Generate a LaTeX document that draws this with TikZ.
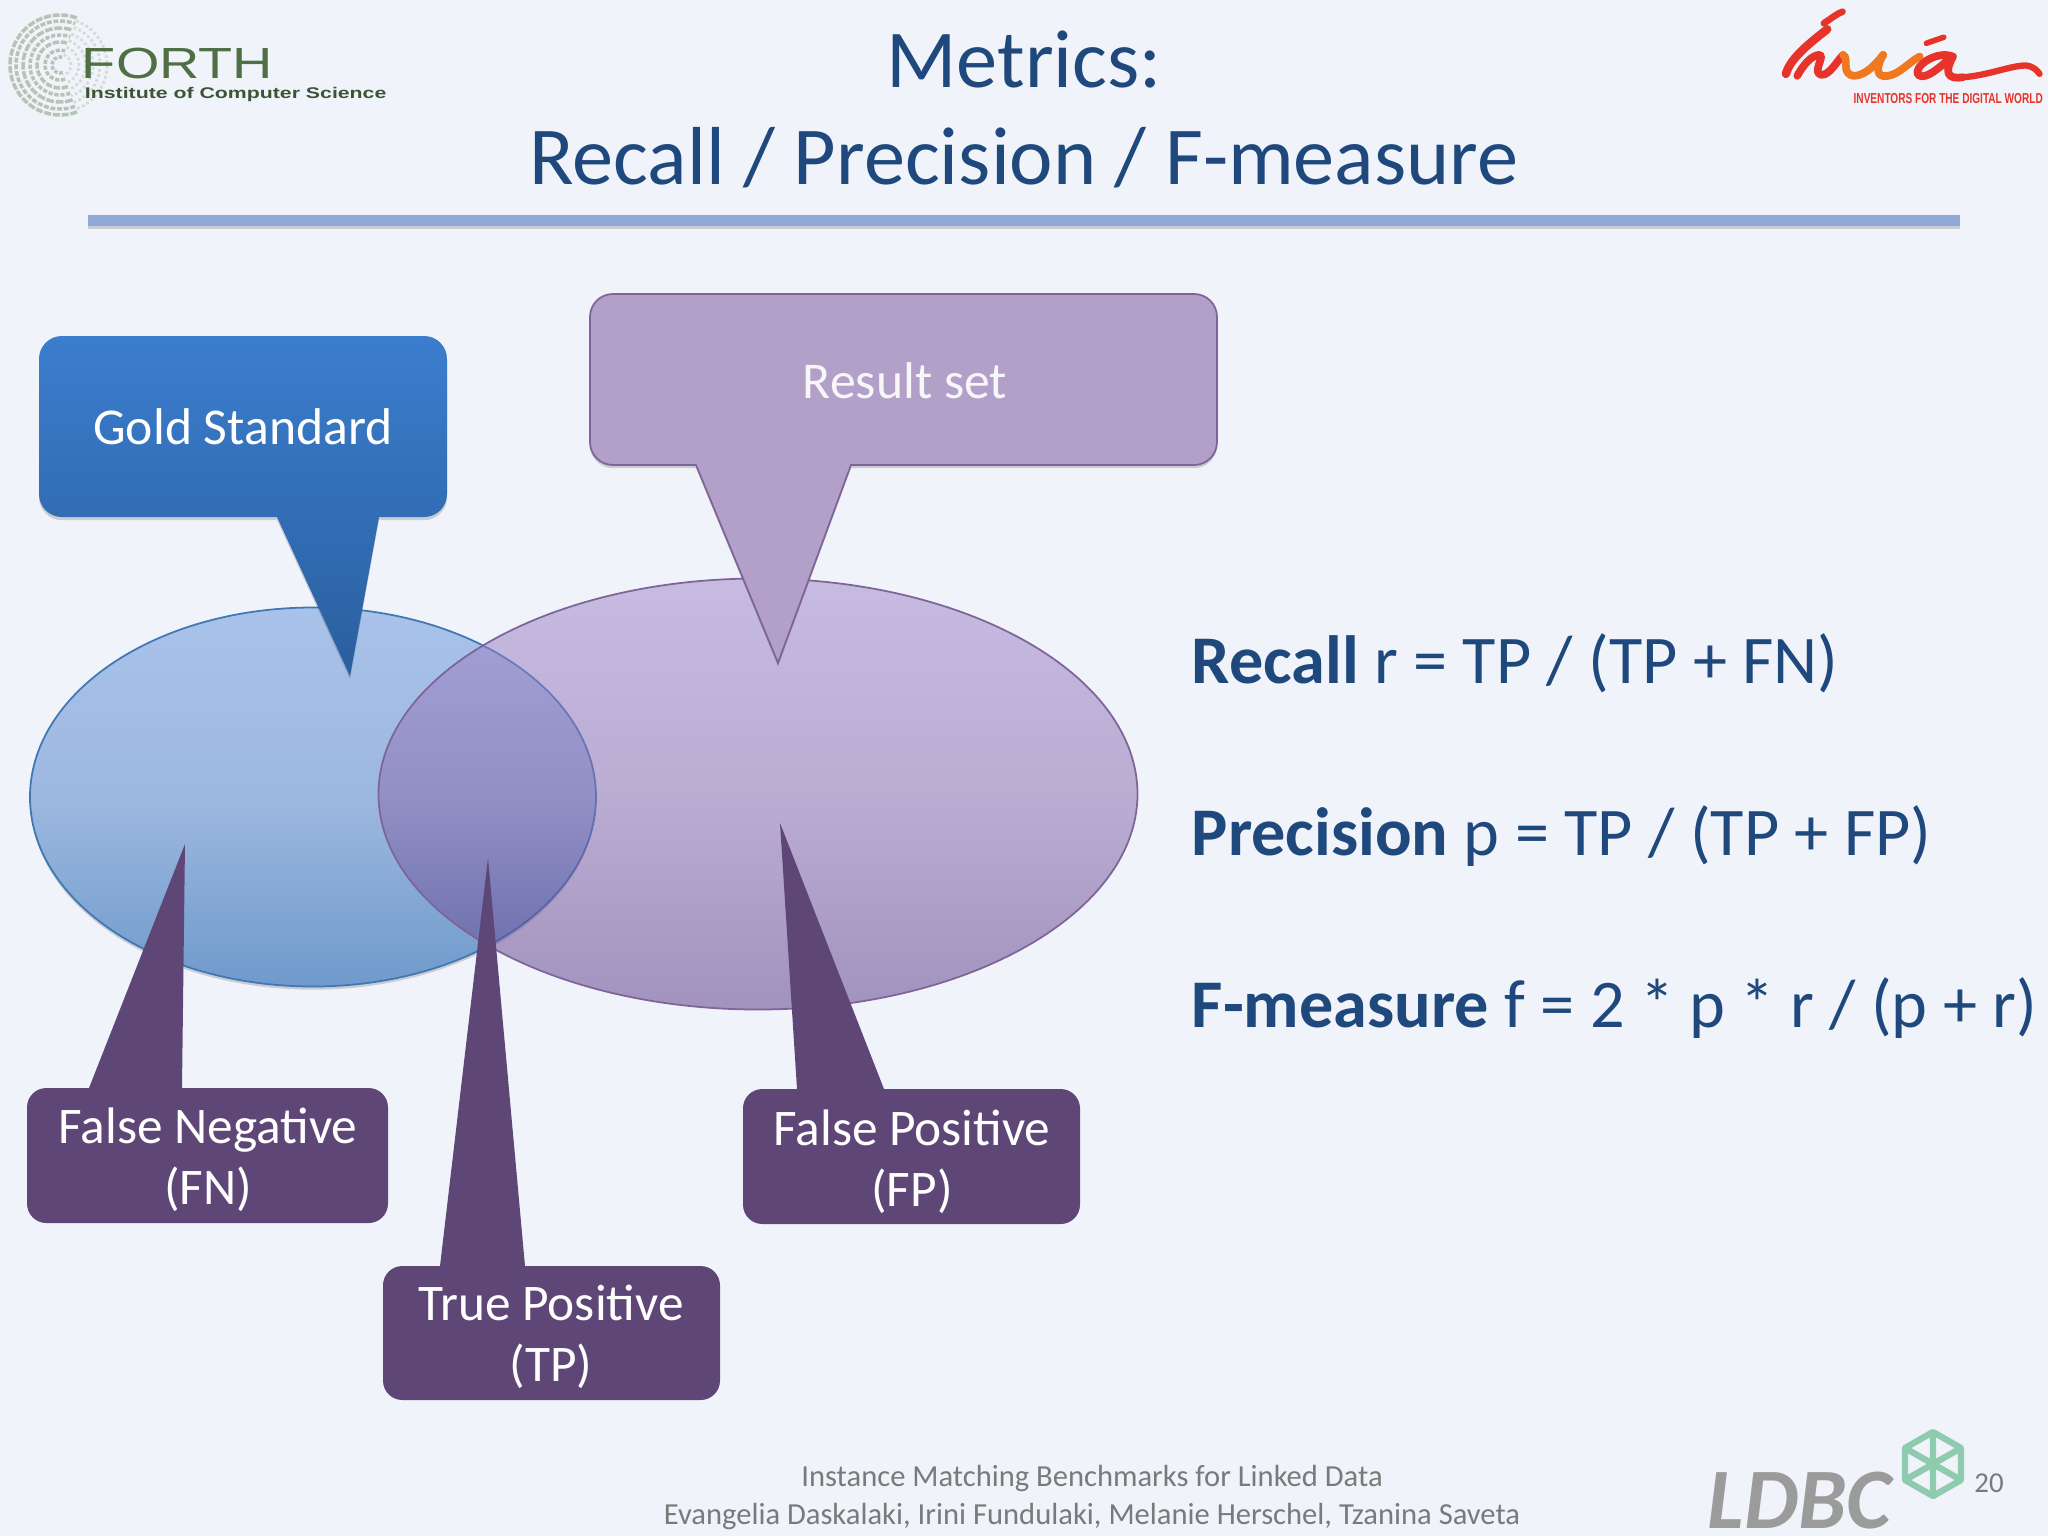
\documentclass[tikz,border=0pt]{standalone}
\usepackage{fontspec}
\setmainfont{Carlito}
\newfontfamily\logofont{Liberation Sans}
\usetikzlibrary{shapes.geometric,shadows}
\definecolor{METbg}{HTML}{F0F4FA}
\definecolor{METtitle}{HTML}{1F497D}
\definecolor{METrule}{HTML}{8FAAD6}
\definecolor{METgoldTop}{HTML}{3B7DCE}
\definecolor{METgoldBot}{HTML}{2A5F9E}
\definecolor{METresult}{HTML}{B2A0C8}
\definecolor{METresultLine}{HTML}{7F6498}
\definecolor{METdark}{HTML}{5E4777}
\definecolor{METblueTop}{HTML}{A9C2E9}
\definecolor{METblueMid}{HTML}{9DB8E0}
\definecolor{METblueBot}{HTML}{6F9ACB}
\definecolor{METblueLine}{HTML}{3F78B4}
\definecolor{METpurpleTop}{HTML}{A287CC}
\definecolor{METpurpleMid}{HTML}{8A6CAE}
\definecolor{METpurpleBot}{HTML}{5A3A88}
\definecolor{METfoot}{HTML}{7A7A7A}
\definecolor{METgreen}{HTML}{8FCBAE}
\definecolor{METforth}{HTML}{4F7045}
\definecolor{METinria}{HTML}{E8332A}
\definecolor{METinriaMid}{HTML}{F0781E}
\tikzset{
  softshadow/.style={drop shadow={shadow xshift=0pt, shadow yshift=-0.9pt, opacity=0.16, fill=black}},
  titletext/.style={font=\fontsize{23.4}{23.4}\selectfont, text=METtitle, inner sep=0pt},
  formula/.style={font=\fontsize{19.4}{19.4}\selectfont, text=METtitle, anchor=base west, inner sep=0pt},
  calloutlabel/.style={font=\fontsize{14.7}{14.7}\selectfont, text=white, align=center, inner sep=0pt},
  twolabel/.style={calloutlabel, font=\fontsize{14.6}{17.3}\selectfont},
  goldshape/.style={top color=METgoldTop, bottom color=METgoldBot, draw=none, softshadow},
  resultshape/.style={fill=METresult, draw=METresultLine, line width=0.5pt, softshadow},
  darkshape/.style={fill=METdark, draw=none},
  goldset/.style={ellipse, inner sep=0pt, minimum width=566\pxu, minimum height=379\pxu, top color=METblueTop, bottom color=METblueBot, middle color=METblueMid, draw=METblueLine, line width=0.5pt, softshadow},
  resultset/.style={ellipse, inner sep=0pt, minimum width=759\pxu, minimum height=431\pxu, top color=METpurpleTop, bottom color=METpurpleBot, middle color=METpurpleMid, fill opacity=0.52, draw=METresultLine, line width=0.5pt},
  foottext/.style={font=\fontsize{8.7}{8.7}\selectfont, text=METfoot, inner sep=0pt}
}
\newcommand{\pxu}{*0.01cm}
\begin{document}
\begin{tikzpicture}[x=0.01cm,y=-0.01cm]
  \useasboundingbox (0,0) rectangle (2048,1536);
  \fill[METbg] (0,0) rectangle (2048,1536);
  \node[titletext] (metrics) at (1024,60) {Metrics:};
  \node[titletext] (subtitle) at (1024,158) {Recall / Precision / F-measure};
  \fill[METrule, softshadow] (88,215) rectangle (1960,226);

  \node[goldset] (goldell) at (313,797) {};
  \node[resultset] (resultell) at (758,794) {};

  \coordinate (goldtip) at (350,676);
  \path[goldshape, rounded corners=6.5pt] (277,517) -- (39,517) -- (39,336) -- (447,336) -- (447,517) [sharp corners] -- (379,517) -- (goldtip) -- cycle;
  \node[calloutlabel] (gold) at (243,427) {Gold Standard};

  \coordinate (resulttip) at (778,663);
  \path[resultshape, rounded corners=6.5pt] (696,465) -- (590,465) -- (590,294) -- (1217,294) -- (1217,465) [sharp corners] -- (851,465) -- (resulttip) -- cycle;
  \node[calloutlabel, text=white!90!METresult] (result) at (905,381) {Result set};

  \coordinate (fntip) at (185,844);
  \path[darkshape, rounded corners=5.5pt] (182,1088) -- (388,1088) -- (388,1223) -- (27,1223) -- (27,1088) [sharp corners] -- (89,1088) -- (fntip) -- cycle;
  \node[twolabel] (fn) at (208,1160) {False Negative\\(FN)};

  \coordinate (fptip) at (780,823);
  \path[darkshape, rounded corners=5.5pt] (884,1089) -- (1080,1089) -- (1080,1224) -- (743,1224) -- (743,1089) [sharp corners] -- (797,1089) -- (fptip) -- cycle;
  \node[twolabel] (fp) at (912,1162) {False Positive\\(FP)};

  \coordinate (tptip) at (488,858);
  \path[darkshape, rounded corners=5.5pt] (525,1266) -- (720,1266) -- (720,1400) -- (383,1400) -- (383,1266) [sharp corners] -- (440,1266) -- (tptip) -- cycle;
  \node[twolabel] (tp) at (551,1337) {True Positive\\(TP)};

  \node[formula] (recall) at (1191,683) {\textbf{Recall} r = TP / (TP + FN)};
  \node[formula] (precision) at (1191,855) {\textbf{Precision} p = TP / (TP + FP)};
  \node[formula] (fmeasure) at (1191,1027) {\textbf{F-measure} f = 2 * p * r / (p + r)};

  \node[foottext] (bench) at (1092,1478) {Instance Matching Benchmarks for Linked Data};
  \node[foottext] (authors) at (1092,1516) {Evangelia Daskalaki, Irini Fundulaki, Melanie Herschel, Tzanina Saveta};
  \node[foottext, font=\fontsize{8.2}{8.2}\selectfont] (page) at (1989,1483) {20};

  \node[font=\fontsize{24.5}{24.5}\bfseries\itshape\selectfont, text=METfoot!75, inner sep=0pt, anchor=base west] (ldbc) at (1707,1528) {LDBC};
  \draw[METgreen, line width=1.8pt, line join=round] (1933,1432) -- (1961,1448) -- (1961,1480) -- (1933,1496) -- (1905,1480) -- (1905,1448) -- cycle;
  \draw[METgreen, line width=1.8pt] (1933,1432) -- (1933,1496) (1905,1448) -- (1961,1480) (1961,1448) -- (1905,1480);

  \begin{scope}[shift={(60,65)}]
    \foreach \rad/\dash in {50/2pt,44/1.4pt,37/2.2pt,30/1.2pt,23/1.8pt,15/1.2pt,8/1pt}
      \draw[METforth!55, line width=1pt, dash pattern=on \dash off 0.5pt, opacity=0.7] (70:\rad) arc[start angle=70, end angle=290, radius=\rad];
    \foreach \rad in {47,40,33,26,19,11}
      \draw[METforth!35, line width=0.8pt, dash pattern=on 0.8pt off 0.7pt, opacity=0.6] (-70:\rad) arc[start angle=-70, end angle=70, radius=\rad];
  \end{scope}
  \node[font=\logofont\fontsize{12.4}{12.4}\selectfont, text=METforth, inner sep=0pt, anchor=base west, xscale=1.28] (forth) at (81,78) {FORTH};
  \node[font=\logofont\bfseries\fontsize{4.4}{4.4}\selectfont, text=METforth!75!black, inner sep=0pt, anchor=base west, xscale=1.375] (institute) at (84,98) {Institute of Computer Science};

  \begin{scope}[shift={(1740,0)}, x=0.0033333cm, y=-0.0033333cm, line cap=round, line join=round]
    \draw[METinria, line width=1.9pt] (252,70) .. controls (275,55) and (290,42) .. (308,35);
    \draw[METinria, line width=2.4pt] (262,88) .. controls (215,125) and (150,175) .. (138,222);
    \draw[METinria, line width=2.2pt] (172,228) .. controls (190,195) and (215,165) .. (240,165) .. controls (255,170) and (215,220) .. (245,225) .. controls (270,225) and (290,185) .. (310,165);
    \draw[METinriaMid, line width=2.2pt] (310,165) .. controls (330,175) and (300,225) .. (345,228) .. controls (380,225) and (410,190) .. (430,165);
    \draw[METinriaMid, line width=2.2pt] (430,165) .. controls (410,200) and (405,235) .. (445,228) .. controls (480,222) and (510,185) .. (540,170);
    \draw[METinria, line width=1.6pt] (560,130) -- (612,112);
    \draw[METinria, line width=2.2pt] (640,170) .. controls (590,150) and (520,200) .. (535,225) .. controls (560,245) and (610,190) .. (640,170) .. controls (615,215) and (620,240) .. (670,232);
    \draw[METinria, line width=1.8pt] (670,232) .. controls (740,228) and (820,195) .. (860,197) .. controls (885,200) and (895,215) .. (900,222);
    \node[font=\logofont\bfseries\fontsize{4.1}{4.1}\selectfont, text=METinria, inner sep=0pt, anchor=base west, xscale=0.70] (inventors) at (340,310) {INVENTORS FOR THE DIGITAL WORLD};
  \end{scope}
\end{tikzpicture}
\end{document}
